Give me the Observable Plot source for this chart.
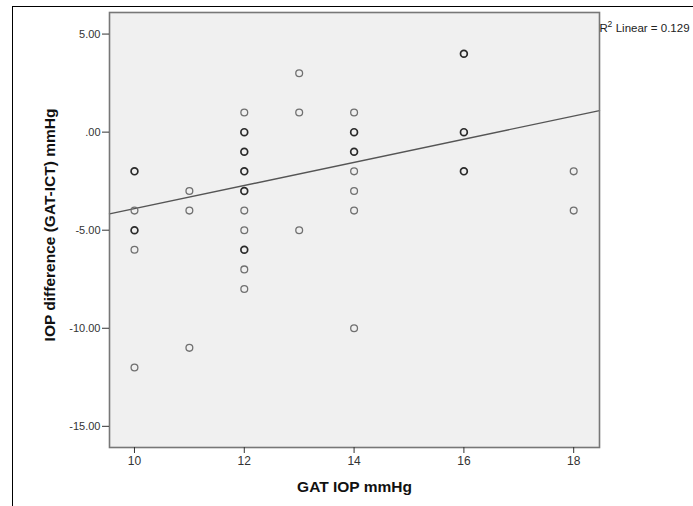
<!DOCTYPE html>
<html>
<head>
<meta charset="utf-8">
<script src="https://cdn.jsdelivr.net/npm/d3@7"></script>
<script src="https://cdn.jsdelivr.net/npm/@observablehq/plot@0.6"></script>
<style>
  html, body { margin: 0; padding: 0; background: #fff; }
  #wrap { position: relative; width: 693px; height: 506px; overflow: hidden; }
  #outer { position: absolute; left: 12px; top: 6px; width: 700px; height: 520px;
           border-left: 1px solid #000; border-top: 1px solid #000; }
  #chart { position: absolute; left: 0; top: 0; }
</style>
</head>
<body>
<div id="wrap"><div id="outer"></div><div id="chart"></div></div>
<script>
// GAT IOP (mmHg) for each plotted point
const gatIOP = [10, 10, 10, 10, 10,
                11, 11, 11,
                12, 12, 12, 12, 12, 12, 12, 12, 12, 12,
                13, 13, 13,
                14, 14, 14, 14, 14, 14, 14,
                16, 16, 16,
                18, 18];
// IOP difference (GAT-ICT) mmHg
const iopDiff = [-2, -4, -5, -6, -12,
                 -3, -4, -11,
                 1, 0, -1, -2, -3, -4, -5, -6, -7, -8,
                 3, 1, -5,
                 1, 0, -1, -2, -3, -4, -10,
                 4, 0, -2,
                 -2, -4];
// overlapping observations at the same position (darker markers)
const overlap = [2, 1, 2, 1, 1,
                 1, 1, 1,
                 1, 2, 2, 2, 2, 1, 1, 2, 1, 1,
                 1, 1, 1,
                 1, 2, 2, 1, 1, 1, 1,
                 2, 2, 2,
                 1, 1];
// fitted linear regression
const fitIntercept = -9.80;
const fitSlope = 0.59;
const r2Value = "0.129";
const xTicks = [10, 12, 14, 16, 18];
const yTicks = [5, 0, -5, -10, -15];
const xDomain = [9.545, 18.47];
const yDomain = [-16.08, 6.1];

const points = gatIOP.map((x, i) => ({x, y: iopDiff[i], n: overlap[i]}));
const fitLine = xDomain.map(x => ({x, y: fitIntercept + fitSlope * x}));

const chart = Plot.plot({
  width: 693,
  height: 506,
  marginLeft: 109,
  marginTop: 12,
  marginRight: 94,
  marginBottom: 59,
  style: {fontFamily: "'Liberation Sans', Arial, sans-serif", background: "transparent", color: "#222"},
  x: {domain: xDomain},
  y: {domain: yDomain},
  marks: [
    Plot.frame({fill: "#f0f0f0", stroke: null}),
    Plot.line(fitLine, {x: "x", y: "y", stroke: "#555", strokeWidth: 1.4}),
    Plot.dot(points, {x: "x", y: "y", r: 3.4, fill: "none",
      stroke: d => d.n > 1 ? "#2a2a2a" : "#707070", strokeWidth: d => d.n > 1 ? 1.7 : 1.3}),
    Plot.frame({stroke: "#777", strokeWidth: 1.6}),
    Plot.axisY({ticks: yTicks, tickSize: 7, tickPadding: 2, fontSize: 11, stroke: "#333", fill: "#333",
      tickFormat: d => d === 0 ? ".00" : d.toFixed(2), label: null}),
    Plot.axisX({ticks: xTicks, tickSize: 6, tickPadding: 3, fontSize: 12, stroke: "#333", fill: "#333",
      tickFormat: d => String(d), label: null}),
    Plot.text(["IOP difference (GAT-ICT) mmHg"], {frameAnchor: "left", textAnchor: "middle",
      dx: -59, dy: -5, rotate: -90, fontSize: 15.5, fontWeight: "bold", fill: "#111"}),
    Plot.text(["GAT IOP mmHg"], {frameAnchor: "bottom", textAnchor: "middle", dy: 40, lineAnchor: "middle",
      fontSize: 15.5, fontWeight: "bold", fill: "#111"}),
    Plot.text(["R"], {frameAnchor: "top-right", dx: 0, dy: 11, textAnchor: "start",
      fontSize: 11.5, fill: "#222"}),
    Plot.text(["2"], {frameAnchor: "top-right", dx: 8, dy: 8, textAnchor: "start",
      fontSize: 8.5, fill: "#222"}),
    Plot.text([" Linear = " + r2Value], {frameAnchor: "top-right", dx: 13, dy: 11, textAnchor: "start",
      fontSize: 11.5, fill: "#222"})
  ]
});
document.getElementById("chart").appendChild(chart);
</script>
</body>
</html>
